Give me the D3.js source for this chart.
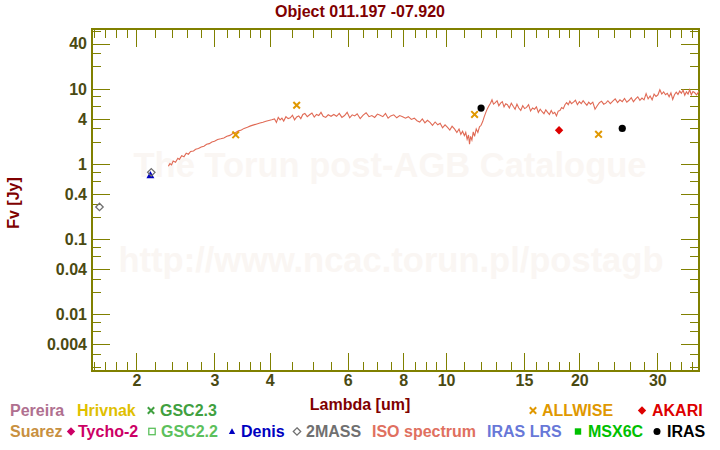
<!DOCTYPE html>
<html><head><meta charset="utf-8">
<script src="https://cdn.jsdelivr.net/npm/d3@7"></script>
<style>html,body{margin:0;padding:0;background:#fff;} svg{display:block;}</style>
</head><body>
<svg id="chart" width="720" height="450"></svg>
<script>
// ---------- data ----------
const chartTitle = "Object 011.197 -07.920";
const xTickValues = [2, 3, 4, 6, 8, 10, 15, 20, 30];
const xMinorTicks = [1.6,1.7,1.8,1.9,2.2,2.4,2.6,2.8,3.2,3.4,3.6,3.8,4.5,5,5.5,6.5,7,7.5,8.5,9,9.5,11,12,13,14,16,17,18,19,22,24,26,28,32,34,36];
const yTickValues = [40, 10, 4, 1, 0.4, 0.1, 0.04, 0.01, 0.004];
const yTickLabels = ["40", "10", "4", "1", "0.4", "0.1", "0.04", "0.01", "0.004"];
const yMinorTicks = [60,30,20,8,6,3,2,0.8,0.6,0.3,0.2,0.08,0.06,0.03,0.02,0.008,0.006,0.003,0.002];

// photometry (wavelength um, flux Jy)
const allwiseWave = [3.35, 4.6, 11.6, 22.1];
const allwiseFlux = [2.46, 6.1, 4.6, 2.5];
const akariWave = [18.0];
const akariFlux = [2.84];
const irasWave = [12, 25];
const irasFlux = [5.6, 3.0];
const twomassWave = [1.65, 2.16];
const twomassFlux = [0.27, 0.78];
const denisWave = [2.15];
const denisFlux = [0.72];

// ISO spectrum
const isoWave = [
 2.36,2.38,2.40,2.42,2.45,2.48,2.50,2.53,2.56,2.59,2.62,2.65,2.69,2.72,2.76,2.80,2.84,2.88,2.92,2.96,3.00,3.05,3.10,3.15,3.20,3.25,3.30,3.35,3.40,3.45,3.50,3.56,3.62,3.68,3.74,3.80,3.86,3.92,3.98,4.04,4.10,
 4.14,4.18,4.22,4.26,4.30,4.35,4.40,4.45,4.50,4.55,4.60,4.65,4.70,4.75,4.80,4.86,4.92,4.98,5.04,5.10,5.16,5.22,5.28,5.35,5.42,5.50,
 5.58,5.66,5.74,5.82,5.90,5.98,6.06,6.14,6.22,6.30,6.40,6.50,6.60,6.70,6.80,6.90,7.00,7.10,7.20,7.30,7.40,7.50,7.62,7.74,7.86,7.98,8.10,
 8.22,8.35,8.48,8.60,8.72,8.84,8.96,9.08,9.20,9.32,9.45,9.58,9.70,9.82,9.95,10.08,10.20,10.32,10.45,10.58,10.70,10.80,10.90,11.00,11.08,11.16,11.24,11.30,11.36,11.44,11.52,11.60,11.70,11.80,11.90,12.00,
 12.10,12.20,12.30,12.40,12.50,12.60,12.70,12.80,12.92,13.04,13.16,13.28,13.40,13.52,13.64,13.76,13.90,14.04,14.18,14.32,14.46,14.60,14.75,14.90,15.05,15.20,15.36,15.52,15.68,15.84,16.00,16.16,16.32,16.48,16.64,16.80,16.96,17.12,17.28,17.44,17.60,17.76,17.92,
 18.08,18.24,18.40,18.56,18.72,18.88,19.04,19.20,19.40,19.60,19.80,20.00,20.20,20.40,20.60,20.80,21.00,21.20,21.45,21.70,21.95,22.20,22.45,22.70,22.95,23.20,23.50,23.80,24.10,24.40,24.70,25.00,25.30,25.60,25.90,26.20,26.50,26.80,27.10,27.40,27.70,28.00,28.30,28.60,28.90,29.20,29.50,29.80,30.10,30.40,30.70,31.00,31.30,31.60,31.90,32.20,32.50,32.80,33.10,33.40,33.70,34.00,34.30,34.60,34.90,35.20,35.50,35.80,36.10,36.40,36.80,37.20,37.60
];
const isoFlux = [
 0.94,1.02,0.98,1.10,1.06,1.20,1.16,1.30,1.26,1.40,1.36,1.48,1.50,1.58,1.62,1.70,1.74,1.84,1.88,1.98,2.02,2.14,2.18,2.24,2.36,2.42,2.56,2.64,2.78,2.86,3.00,3.10,3.24,3.34,3.44,3.54,3.62,3.74,3.82,3.90,4.00,
 3.60,4.20,3.90,4.10,3.75,4.30,4.05,4.15,4.50,3.90,4.25,4.40,4.05,4.60,4.75,4.30,4.55,4.80,4.25,4.60,4.45,4.90,4.35,4.20,4.55,4.35,
 4.60,4.35,4.75,4.20,4.45,4.90,4.15,4.55,4.40,4.70,4.05,4.50,4.85,4.30,4.45,4.20,4.65,4.50,4.30,4.75,4.10,4.40,4.55,4.15,4.45,4.30,4.10,
 4.30,3.95,4.10,3.80,3.65,4.00,3.55,3.85,3.60,3.30,3.65,3.35,3.50,3.05,3.35,3.10,2.85,3.20,2.95,2.65,2.95,2.50,2.75,2.40,2.65,2.15,2.45,1.85,2.35,2.10,2.70,2.35,2.95,2.65,3.15,3.30,
 3.70,4.30,4.90,5.50,6.00,6.50,7.20,6.30,6.60,7.00,6.00,6.50,6.80,5.80,6.40,6.20,5.60,6.50,5.90,5.40,6.30,5.60,5.20,6.00,5.50,5.70,6.20,5.10,5.60,5.40,5.80,4.90,5.40,5.00,4.70,5.30,4.90,4.60,5.20,4.70,4.90,4.40,5.10,
 5.20,5.70,5.50,6.20,6.60,6.20,6.90,6.40,6.70,7.10,6.20,6.80,6.40,7.00,6.50,6.10,6.70,6.30,6.70,5.40,6.00,6.60,6.90,6.30,6.50,7.00,6.40,6.90,7.40,6.60,7.20,6.80,7.50,6.70,7.10,7.70,6.80,7.40,7.90,7.10,7.60,7.20,8.70,7.40,8.10,7.20,8.60,8.00,8.40,9.80,8.60,9.20,8.40,8.80,7.90,8.90,7.30,8.40,9.10,8.50,9.40,8.80,9.70,8.30,9.20,8.60,9.80,8.40,9.30,9.00,8.40,9.20,8.90
];

// legend entries
const legendRow1 = [
  {label: "Pereira", color: "#b07090", x: 10},
  {label: "Hrivnak", color: "#e0c000", x: 77},
  {label: "GSC2.3", color: "#40a040", x: 160, sym: "x", sx: 151},
  {label: "ALLWISE", color: "#e09800", x: 542, sym: "x", sx: 533},
  {label: "AKARI", color: "#dd0000", x: 652, sym: "diamond", sx: 642}
];
const legendRow2 = [
  {label: "Suarez", color: "#c89040", x: 10},
  {label: "Tycho-2", color: "#cc0066", x: 78, sym: "diamond", sx: 71},
  {label: "GSC2.2", color: "#5cc05c", x: 161, sym: "osquare", sx: 152},
  {label: "Denis", color: "#0000c0", x: 241, sym: "triangle", sx: 232},
  {label: "2MASS", color: "#707070", x: 306, sym: "odiamond", sx: 297},
  {label: "ISO spectrum", color: "#e07060", x: 372},
  {label: "IRAS LRS", color: "#6878d8", x: 487},
  {label: "MSX6C", color: "#00c000", x: 588, sym: "square", sx: 578},
  {label: "IRAS", color: "#000000", x: 667, sym: "circle", sx: 657}
];

// ---------- drawing ----------
const pLeft = 92, pRight = 699, pTop = 29, pBottom = 371;
const olive = "#808000", labelColor = "#4a4a12", maroon = "#800000";
const fontFam = "'Liberation Sans', Arial, Helvetica, sans-serif";
const svg = d3.select("#chart");

const xs = d3.scaleLog().domain([1.587, 37.26]).range([pLeft, pRight]);
const ys = d3.scaleLog().domain([0.00177, 63.1]).range([pBottom, pTop]);

// watermark
svg.append("text").attr("x", 390).attr("y", 177).attr("text-anchor", "middle")
  .attr("font-family", fontFam).attr("font-weight", "bold").attr("font-size", 34.5)
  .attr("fill", "#faf6f3").text("The Torun post-AGB Catalogue");
svg.append("text").attr("x", 391).attr("y", 272).attr("text-anchor", "middle")
  .attr("font-family", fontFam).attr("font-weight", "bold").attr("font-size", 34.5)
  .attr("fill", "#faf6f3").text("http://www.ncac.torun.pl/postagb");

// title
svg.append("text").attr("x", 360).attr("y", 17).attr("text-anchor", "middle")
  .attr("font-family", fontFam).attr("font-weight", "bold").attr("font-size", 16)
  .attr("fill", maroon).text(chartTitle);

function styleAxis(g) {
  g.select(".domain").remove();
  g.attr("font-family", null).attr("font-size", null);
  g.selectAll(".tick line").attr("stroke", olive).attr("stroke-width", 1).attr("shape-rendering", "crispEdges");
  g.selectAll(".tick text").attr("fill", labelColor).attr("font-size", 16)
    .attr("font-weight", "bold").attr("font-family", fontFam);
}

// bottom
svg.append("g").attr("transform", `translate(0,${pBottom})`)
  .call(d3.axisBottom(xs).tickValues(xTickValues).tickFormat(d => String(d)).tickSizeInner(-18).tickSizeOuter(0).tickPadding(4))
  .call(styleAxis);
svg.append("g").attr("transform", `translate(0,${pBottom})`)
  .call(d3.axisBottom(xs).tickValues(xMinorTicks).tickFormat("").tickSizeInner(-9).tickSizeOuter(0))
  .call(styleAxis);
// top
svg.append("g").attr("transform", `translate(0,${pTop})`)
  .call(d3.axisTop(xs).tickValues(xTickValues).tickFormat("").tickSizeInner(-18).tickSizeOuter(0))
  .call(styleAxis);
svg.append("g").attr("transform", `translate(0,${pTop})`)
  .call(d3.axisTop(xs).tickValues(xMinorTicks).tickFormat("").tickSizeInner(-9).tickSizeOuter(0))
  .call(styleAxis);
// left
svg.append("g").attr("transform", `translate(${pLeft},0)`)
  .call(d3.axisLeft(ys).tickValues(yTickValues).tickFormat((d, i) => yTickLabels[i]).tickSizeInner(-18).tickSizeOuter(0).tickPadding(5))
  .call(styleAxis);
svg.append("g").attr("transform", `translate(${pLeft},0)`)
  .call(d3.axisLeft(ys).tickValues(yMinorTicks).tickFormat("").tickSizeInner(-9).tickSizeOuter(0))
  .call(styleAxis);
// right
svg.append("g").attr("transform", `translate(${pRight},0)`)
  .call(d3.axisRight(ys).tickValues(yTickValues).tickFormat("").tickSizeInner(-18).tickSizeOuter(0))
  .call(styleAxis);
svg.append("g").attr("transform", `translate(${pRight},0)`)
  .call(d3.axisRight(ys).tickValues(yMinorTicks).tickFormat("").tickSizeInner(-9).tickSizeOuter(0))
  .call(styleAxis);

// frame
svg.append("rect").attr("x", pLeft).attr("y", pTop).attr("width", pRight - pLeft).attr("height", pBottom - pTop)
  .attr("fill", "none").attr("stroke", olive).attr("stroke-width", 2).attr("shape-rendering", "crispEdges");

// axis titles
svg.append("text").attr("x", 360).attr("y", 410).attr("text-anchor", "middle")
  .attr("font-family", fontFam).attr("font-weight", "bold").attr("font-size", 16)
  .attr("fill", maroon).text("Lambda [um]");
svg.append("text").attr("transform", "translate(19,203) rotate(-90)").attr("text-anchor", "middle")
  .attr("font-family", fontFam).attr("font-weight", "bold").attr("font-size", 16)
  .attr("fill", maroon).text("Fv [Jy]");

// clip
svg.append("defs").append("clipPath").attr("id", "plotclip")
  .append("rect").attr("x", pLeft).attr("y", pTop).attr("width", pRight - pLeft).attr("height", pBottom - pTop);

// spectrum
const isoData = d3.zip(isoWave, isoFlux);
svg.append("path").datum(isoData).attr("clip-path", "url(#plotclip)")
  .attr("fill", "none").attr("stroke", "#e06a55").attr("stroke-width", 1.1)
  .attr("d", d3.line().x(d => xs(d[0])).y(d => ys(d[1])));

// marker drawing
function marker(g, type, cx, cy, s, color) {
  if (type === "x") {
    g.append("path").attr("d", `M${cx - s},${cy - s}L${cx + s},${cy + s}M${cx - s},${cy + s}L${cx + s},${cy - s}`)
      .attr("stroke", color).attr("stroke-width", 2).attr("fill", "none");
  } else if (type === "diamond" || type === "odiamond") {
    const p = g.append("path").attr("d", `M${cx},${cy - s}L${cx + s},${cy}L${cx},${cy + s}L${cx - s},${cy}Z`);
    if (type === "diamond") p.attr("fill", color);
    else p.attr("fill", "none").attr("stroke", color).attr("stroke-width", 1.3);
  } else if (type === "triangle") {
    g.append("path").attr("d", `M${cx},${cy - s}L${cx + s},${cy + s * 0.8}L${cx - s},${cy + s * 0.8}Z`).attr("fill", color);
  } else if (type === "square") {
    g.append("rect").attr("x", cx - s).attr("y", cy - s).attr("width", 2 * s).attr("height", 2 * s).attr("fill", color);
  } else if (type === "osquare") {
    g.append("rect").attr("x", cx - s).attr("y", cy - s).attr("width", 2 * s).attr("height", 2 * s)
      .attr("fill", "none").attr("stroke", color).attr("stroke-width", 1.3);
  } else if (type === "circle") {
    g.append("circle").attr("cx", cx).attr("cy", cy).attr("r", s).attr("fill", color);
  }
}

const pts = svg.append("g").attr("clip-path", "url(#plotclip)");
denisWave.forEach((w, i) => marker(pts, "triangle", xs(w), ys(denisFlux[i]), 4, "#0000c0"));
twomassWave.forEach((w, i) => marker(pts, "odiamond", xs(w), ys(twomassFlux[i]), 3.7, "#707070"));
allwiseWave.forEach((w, i) => marker(pts, "x", xs(w), ys(allwiseFlux[i]), 3.3, "#e09800"));
akariWave.forEach((w, i) => marker(pts, "diamond", xs(w), ys(akariFlux[i]), 4.2, "#dd0000"));
irasWave.forEach((w, i) => marker(pts, "circle", xs(w), ys(irasFlux[i]), 3.6, "#000000"));

// legend
const lg = svg.append("g");
function drawRow(items, base) {
  items.forEach(it => {
    if (it.sym) {
      const sz = it.sym === "x" ? 3.2 : (it.sym === "diamond" ? 4.2 : (it.sym === "circle" ? 3.5 : (it.sym === "odiamond" ? 3.7 : 3.2)));
      marker(lg, it.sym, it.sx, base - 5.5, sz, it.color);
    }
    lg.append("text").attr("x", it.x).attr("y", base)
      .attr("font-family", fontFam).attr("font-weight", "bold").attr("font-size", 16)
      .attr("fill", it.color).text(it.label);
  });
}
drawRow(legendRow1, 416);
drawRow(legendRow2, 437);
</script>
</body></html>
